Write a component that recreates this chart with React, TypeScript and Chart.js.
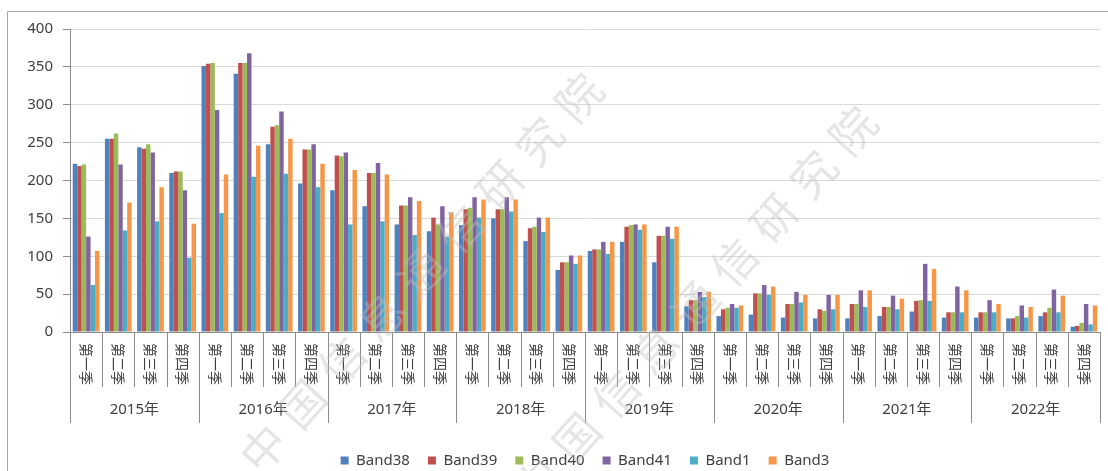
import React, { useEffect, useRef } from 'react';
import { Chart, registerables } from 'chart.js';

Chart.register(...registerables);

const years = ['2015年', '2016年', '2017年', '2018年', '2019年', '2020年', '2021年', '2022年'];
const quarters = ['第一季', '第二季', '第三季', '第四季'];
const seriesNames = ['Band38', 'Band39', 'Band40', 'Band41', 'Band1', 'Band3'];
const seriesColors = ['#4F81BD', '#C0504D', '#9BBB59', '#8064A2', '#4BACC6', '#F79646'];

const band38 = [222, 255, 244, 210, 351, 341, 248, 196, 187, 166, 142, 133, 141, 150, 120, 82, 107, 119, 92, 34, 21, 23, 19, 18, 18, 21, 27, 19, 19, 18, 21, 7];
const band39 = [219, 255, 242, 212, 354, 355, 271, 241, 233, 210, 167, 151, 162, 162, 137, 92, 109, 139, 127, 42, 30, 51, 37, 30, 37, 33, 41, 26, 26, 18, 26, 8];
const band40 = [221, 262, 248, 212, 355, 355, 273, 241, 232, 210, 167, 142, 164, 162, 139, 92, 109, 141, 127, 42, 32, 51, 37, 28, 37, 33, 42, 26, 26, 21, 32, 12];
const band41 = [126, 221, 237, 187, 293, 368, 291, 248, 237, 223, 178, 166, 178, 178, 151, 101, 119, 142, 139, 53, 37, 62, 53, 49, 55, 48, 90, 60, 42, 35, 56, 37];
const band1 = [62, 134, 146, 98, 157, 205, 209, 191, 142, 146, 128, 126, 151, 159, 132, 90, 103, 135, 123, 46, 32, 49, 39, 30, 33, 30, 41, 26, 26, 19, 26, 10];
const band3 = [107, 171, 191, 143, 208, 246, 255, 222, 214, 208, 173, 158, 175, 175, 151, 101, 119, 142, 139, 53, 35, 60, 49, 49, 55, 44, 83, 55, 37, 33, 48, 35];

const yMin = 0;
const yMax = 400;
const yStep = 50;
const watermarkText = '中国信息通信研究院';

const seriesValues = [band38, band39, band40, band41, band1, band3];
const categoryLabels = years.flatMap((y) => quarters.map((q) => y + q));

const FONT = '"Noto Sans", "Noto Sans CJK SC", sans-serif';
const CJK = '"Noto Sans CJK SC", "Noto Sans", sans-serif';
const TEXT = '#404040';
const AXIS = '#8c8c8c';

const framePlugin = {
  id: 'frame',
  beforeDraw(chart: any) {
    const { ctx, width, height } = chart;
    ctx.save();
    ctx.fillStyle = '#ffffff';
    ctx.fillRect(0, 0, width, height);
    ctx.strokeStyle = '#a6a6a6';
    ctx.lineWidth = 1;
    ctx.beginPath();
    ctx.moveTo(7.5, height);
    ctx.lineTo(7.5, 11.5);
    ctx.lineTo(width, 11.5);
    ctx.stroke();
    ctx.restore();
  },
};

const multiAxisPlugin = {
  id: 'multiAxis',
  afterDraw(chart: any) {
    const { ctx, chartArea } = chart;
    const xs = chart.scales.x;
    const n = categoryLabels.length;
    const step = xs.getPixelForValue(1) - xs.getPixelForValue(0);
    const b = chartArea.bottom;
    ctx.save();
    ctx.strokeStyle = AXIS;
    ctx.lineWidth = 1;
    for (let i = 0; i <= n; i++) {
      const x = Math.round(xs.getPixelForValue(i) - step / 2) + 0.5;
      const end = i % quarters.length === 0 ? b + 91 : b + 55;
      ctx.beginPath();
      ctx.moveTo(x, b);
      ctx.lineTo(x, end);
      ctx.stroke();
    }
    ctx.fillStyle = TEXT;
    ctx.textAlign = 'center';
    ctx.textBaseline = 'middle';
    ctx.font = '14px ' + CJK;
    for (let i = 0; i < n; i++) {
      const x = xs.getPixelForValue(i);
      ctx.save();
      ctx.translate(x, b + 32);
      ctx.rotate(Math.PI / 2);
      ctx.fillText(quarters[i % quarters.length], 0, 0);
      ctx.restore();
    }
    ctx.font = '15px ' + FONT;
    years.forEach((yr, k) => {
      const x0 = xs.getPixelForValue(k * quarters.length);
      const x1 = xs.getPixelForValue(k * quarters.length + quarters.length - 1);
      ctx.fillText(yr, (x0 + x1) / 2, b + 78);
    });

    // watermark
    const ang = (48 * Math.PI) / 180;
    const sp = 59;
    ctx.font = '45px ' + CJK;
    ctx.fillStyle = 'rgba(190,190,190,0.4)';
    const starts = [
      [263, 448],
      [537, 481],
    ];
    starts.forEach(([sx, sy]) => {
      Array.from(watermarkText).forEach((ch, k) => {
        ctx.save();
        ctx.translate(sx + k * sp * Math.cos(ang), sy - k * sp * Math.sin(ang));
        ctx.rotate(-ang);
        ctx.fillText(ch, 0, 0);
        ctx.restore();
      });
    });
    ctx.restore();
  },
};

export default function App() {
  const ref = useRef<HTMLCanvasElement>(null);
  useEffect(() => {
    if (!ref.current) return;
    const chart = new Chart(ref.current, {
      type: 'bar',
      data: {
        labels: categoryLabels,
        datasets: seriesNames.map((name, i) => ({
          label: name,
          data: seriesValues[i],
          backgroundColor: seriesColors[i],
          borderWidth: 0,
          categoryPercentage: 0.83,
          barPercentage: 1.0,
        })),
      },
      options: {
        animation: false,
        responsive: false,
        devicePixelRatio: 1,
        layout: { padding: { left: 0, right: 8, top: 29, bottom: 0 } },
        plugins: {
          tooltip: { enabled: false },
          legend: {
            position: 'bottom',
            fullSize: false,
            labels: {
              boxWidth: 8,
              boxHeight: 8,
              padding: 18,
              color: TEXT,
              font: { size: 15, family: FONT },
            },
          },
        },
        scales: {
          x: {
            type: 'category',
            offset: true,
            grid: { display: false },
            border: { display: true, color: AXIS },
            ticks: { display: false },
            afterFit: (s: any) => {
              s.height = 103;
            },
          },
          y: {
            min: yMin,
            max: yMax,
            ticks: {
              stepSize: yStep,
              color: TEXT,
              padding: 10,
              font: { size: 15, family: FONT },
            },
            grid: { color: '#d9d9d9', tickLength: 7, tickColor: AXIS },
            border: { display: true, color: AXIS },
            afterFit: (s: any) => {
              s.width = 70;
            },
          },
        },
      },
      plugins: [framePlugin, multiAxisPlugin],
    } as any);
    return () => chart.destroy();
  }, []);
  return (
    <div
      style={{
        position: 'fixed',
        left: 0,
        top: 0,
        width: 1108,
        height: 471,
        overflow: 'hidden',
        background: '#fff',
      }}
    >
      <canvas ref={ref} width={1108} height={478} style={{ display: 'block', width: 1108, height: 478 }} />
    </div>
  );
}
